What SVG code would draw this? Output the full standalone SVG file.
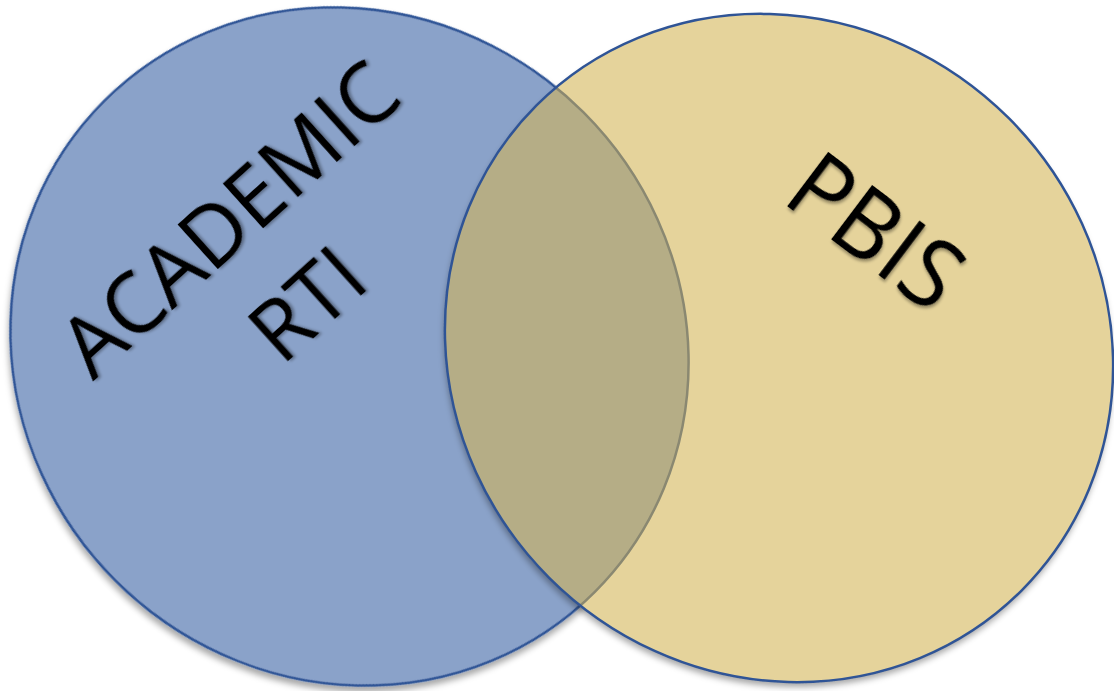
<svg xmlns="http://www.w3.org/2000/svg" width="1114" height="691" viewBox="0 0 1114 691">
  <defs>
    <filter id="shapeShadow" x="-10%" y="-10%" width="120%" height="120%">
      <feDropShadow dx="3" dy="4" stdDeviation="3" flood-color="#000" flood-opacity="0.35"/>
    </filter>
    <filter id="textShadow" x="-10%" y="-10%" width="120%" height="120%">
      <feDropShadow dx="2" dy="2" stdDeviation="1.6" flood-color="#000" flood-opacity="0.35"/>
    </filter>
    <clipPath id="inBlue">
      <ellipse cx="349.5" cy="346.5" rx="347" ry="331" transform="rotate(45 349.5 346.5)"/>
    </clipPath>
    <clipPath id="inGold">
      <ellipse cx="779" cy="348" rx="343" ry="325" transform="rotate(45 779 348)"/>
    </clipPath>
    <style>
      .label { font-family: "Open Sans", "Lato", "Liberation Sans", sans-serif; font-weight: 400; fill: #000; text-anchor: middle; filter: url(#textShadow); }
      .edge { fill: none; stroke: #2F5496; stroke-width: 2.5; }
    </style>
  </defs>
  <rect width="1114" height="691" fill="#fff"/>

  <g id="academic-rti">
    <ellipse cx="349.5" cy="346.5" rx="347" ry="331" transform="rotate(45 349.5 346.5)" class="edge" style="fill:#8AA2C9" filter="url(#shapeShadow)"/>
  </g>

  <g id="pbis">
    <ellipse cx="779" cy="348" rx="343" ry="325" transform="rotate(45 779 348)" fill="#E5D39B" filter="url(#shapeShadow)"/>
  </g>

  <g id="overlap">
    <g clip-path="url(#inBlue)">
      <ellipse cx="779" cy="348" rx="343" ry="325" transform="rotate(45 779 348)" fill="#B5AD86"/>
    </g>
    <g clip-path="url(#inGold)">
      <ellipse cx="349.5" cy="346.5" rx="347" ry="331" transform="rotate(45 349.5 346.5)" fill="none" stroke="#8A8871" stroke-width="2.5"/>
    </g>
    <ellipse cx="779" cy="348" rx="343" ry="325" transform="rotate(45 779 348)" class="edge"/>
  </g>

  <g id="academic-rti-label">
    <text class="label" font-size="84" transform="translate(249 241) rotate(-42)" textLength="420" lengthAdjust="spacingAndGlyphs">ACADEMIC</text>
    <text class="label" font-size="84" transform="translate(327 326) rotate(-42)">RTI</text>
  </g>

  <g id="pbis-label">
    <text class="label" font-size="96" transform="translate(856 258) rotate(37)" textLength="190" lengthAdjust="spacingAndGlyphs">PBIS</text>
  </g>
</svg>
